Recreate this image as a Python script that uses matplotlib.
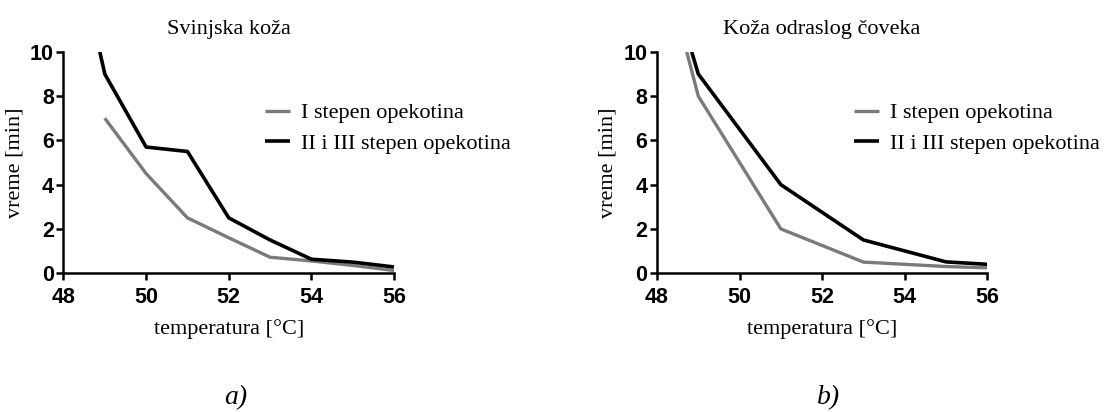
import matplotlib.pyplot as plt

# a) Svinjska koza
pig_t1 = [49, 50, 51, 52, 53, 54, 55, 56]
pig_v1 = [7.0, 4.5, 2.5, 1.6, 0.72, 0.55, 0.35, 0.12]
pig_t2 = [48.88, 49, 50, 51, 52, 53, 54, 55, 56]
pig_v2 = [10.0, 9.0, 5.7, 5.5, 2.5, 1.5, 0.63, 0.5, 0.28]

# b) Koza odraslog coveka
hum_t1 = [48.72, 49, 51, 53, 55, 56]
hum_v1 = [10.0, 8.0, 2.0, 0.5, 0.3, 0.24]
hum_t2 = [48.84, 49, 51, 53, 55, 56]
hum_v2 = [10.0, 9.0, 4.0, 1.5, 0.51, 0.4]

titles = ["Svinjska koža", "Koža odraslog čoveka"]
labels = ["I stepen opekotina", "II i III stepen opekotina"]
panel_tags = ["a)", "b)"]
xticks = [48, 50, 52, 54, 56]
yticks = [0, 2, 4, 6, 8, 10]

serif = "Liberation Serif"
sans = "Liberation Sans"
gray = "#7a7a7a"

fig = plt.figure(figsize=(11.08, 4.12), dpi=100)
ax_pos = [[0.0573, 0.337, 0.2983, 0.537], [0.593, 0.337, 0.298, 0.537]]
legend_x = [0.61, 0.597]
data = [(pig_t1, pig_v1, pig_t2, pig_v2), (hum_t1, hum_v1, hum_t2, hum_v2)]

for i in range(2):
    ax = fig.add_axes(ax_pos[i])
    t1, v1, t2, v2 = data[i]
    ax.plot(t1, v1, color=gray, lw=2.4, label=labels[0], solid_capstyle="butt")
    ax.plot(t2, v2, color="black", lw=2.6, label=labels[1], solid_capstyle="butt")
    ax.set_xlim(48, 56)
    ax.set_ylim(0, 10)
    ax.set_xticks(xticks)
    ax.set_yticks(yticks)
    for s in ["top", "right"]:
        ax.spines[s].set_visible(False)
    for s in ["left", "bottom"]:
        ax.spines[s].set_linewidth(1.8)
    ax.tick_params(width=1.8, length=5, direction="out")
    ax.tick_params(axis="x", pad=5)
    ax.tick_params(axis="y", pad=2)
    for lab in ax.get_xticklabels() + ax.get_yticklabels():
        lab.set_fontfamily(sans)
        lab.set_fontweight("bold")
        lab.set_fontsize(15.5)
    ax.set_title(titles[i], fontfamily=serif, fontsize=16, pad=13)
    ax.set_xlabel("temperatura [°C]", fontfamily=serif, fontsize=16, labelpad=8)
    ax.set_ylabel("vreme [min]", fontfamily=serif, fontsize=16, labelpad=4)
    ax.legend(loc="center left", bbox_to_anchor=(legend_x[i], 0.654), frameon=False,
              prop={"family": serif, "size": 16}, handlelength=1.1,
              handletextpad=0.5, labelspacing=0.45, borderpad=0, borderaxespad=0)
    fig.text(ax_pos[i][0] + ax_pos[i][2] / 2 + 0.006, 0.02, panel_tags[i],
             fontfamily=serif, fontstyle="italic", fontsize=20, ha="center")

fig.savefig("out.png", dpi=100)
